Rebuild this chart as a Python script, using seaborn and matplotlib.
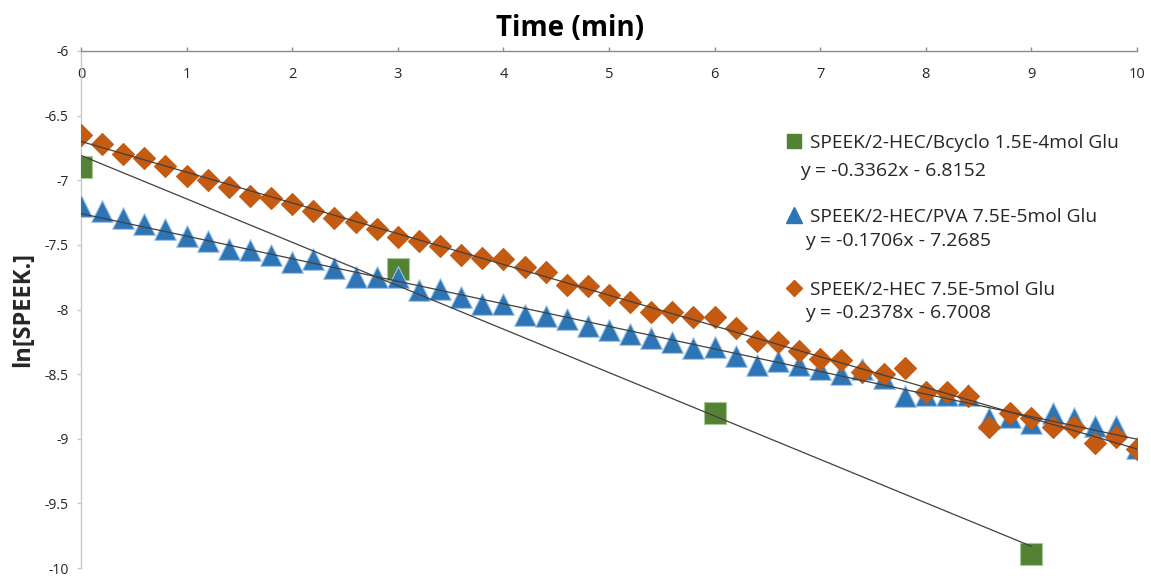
import numpy as np
import pandas as pd
import matplotlib
matplotlib.use("Agg")
import matplotlib.pyplot as plt
import seaborn as sns

time_fine = [0.0, 0.2, 0.4, 0.6, 0.8, 1.0, 1.2, 1.4, 1.6, 1.8,
             2.0, 2.2, 2.4, 2.6, 2.8, 3.0, 3.2, 3.4, 3.6, 3.8,
             4.0, 4.2, 4.4, 4.6, 4.8, 5.0, 5.2, 5.4, 5.6, 5.8,
             6.0, 6.2, 6.4, 6.6, 6.8, 7.0, 7.2, 7.4, 7.6, 7.8,
             8.0, 8.2, 8.4, 8.6, 8.8, 9.0, 9.2, 9.4, 9.6, 9.8,
             10.0]
pva_vals = [-7.20, -7.24, -7.29, -7.34, -7.38, -7.43, -7.47, -7.53, -7.54, -7.58,
            -7.63, -7.61, -7.68, -7.75, -7.75, -7.75, -7.85, -7.84, -7.90, -7.96,
            -7.96, -8.04, -8.05, -8.07, -8.13, -8.16, -8.19, -8.22, -8.25, -8.30,
            -8.29, -8.36, -8.43, -8.40, -8.43, -8.46, -8.50, -8.46, -8.53, -8.67,
            -8.66, -8.66, -8.66, -8.84, -8.83, -8.88, -8.80, -8.84, -8.90, -8.90,
            -9.07]
hec_vals = [-6.65, -6.72, -6.80, -6.83, -6.89, -6.97, -7.00, -7.05, -7.12, -7.14,
            -7.18, -7.24, -7.29, -7.32, -7.38, -7.44, -7.47, -7.51, -7.58, -7.60,
            -7.61, -7.67, -7.71, -7.81, -7.82, -7.89, -7.94, -8.02, -8.02, -8.06,
            -8.06, -8.14, -8.24, -8.25, -8.32, -8.38, -8.39, -8.48, -8.50, -8.45,
            -8.64, -8.64, -8.67, -8.91, -8.80, -8.84, -8.91, -8.91, -9.03, -8.99,
            -9.08]
time_coarse = [0, 3, 6, 9]
bcyclo_vals = [-6.90, -7.69, -8.80, -9.89]

series_names = ["SPEEK/2-HEC/Bcyclo 1.5E-4mol Glu",
                "SPEEK/2-HEC/PVA 7.5E-5mol Glu",
                "SPEEK/2-HEC 7.5E-5mol Glu"]
equations = ["y = -0.3362x - 6.8152",
             "y = -0.1706x - 7.2685",
             "y = -0.2378x - 6.7008"]
y_ticks = [-10, -9.5, -9, -8.5, -8, -7.5, -7, -6.5, -6]
y_tick_labels = ["-10", "-9.5", "-9", "-8.5", "-8", "-7.5", "-7", "-6.5", "-6"]
x_ticks = [0, 1, 2, 3, 4, 5, 6, 7, 8, 9, 10]

sns.set_theme(style="white")
plt.rcParams["font.family"] = ["Open Sans", "DejaVu Sans"]

colors = ["#548235", "#2E75B6", "#C55A11"]
edges = ["#A9C89A", "#9DC3E6", "#C55A11"]
markers = ["s", "^", "D"]
sizes = [270, 245, 125]

df_g = pd.DataFrame({"t": time_coarse, "v": bcyclo_vals})
df_b = pd.DataFrame({"t": time_fine, "v": pva_vals})
df_o = pd.DataFrame({"t": time_fine, "v": hec_vals})
frames = [df_g, df_b, df_o]

fig = plt.figure(figsize=(11.51, 5.76), dpi=100)
ax = fig.add_axes([81 / 1151, 8 / 576, (1137 - 81) / 1151, (568 - 51) / 576])

for df, c, ec, m, s, name in zip(frames, colors, edges, markers, sizes, series_names):
    sns.scatterplot(data=df, x="t", y="v", ax=ax, marker=m, s=s, color=c,
                    edgecolor=ec, linewidth=0.8, zorder=3, label=name, legend=False)
for df in frames:
    sns.regplot(data=df, x="t", y="v", ax=ax, scatter=False, ci=None,
                truncate=True, line_kws={"color": "#404040", "lw": 0.9, "zorder": 4})

ax.set_xlim(0, 10)
ax.set_ylim(-10, -6)
ax.set_yticks(y_ticks)
ax.set_yticklabels(y_tick_labels)
ax.set_xticks(x_ticks)
ax.set_xlabel("")
ax.set_ylabel("ln[SPEEK.]", fontsize=17, fontweight="bold", labelpad=7)

for side in ["right", "bottom"]:
    ax.spines[side].set_visible(False)
ax.spines["top"].set_color("#8C8C8C")
ax.spines["left"].set_color("#C8C8C8")
ax.spines["top"].set_linewidth(1.0)
ax.spines["left"].set_linewidth(1.0)

ax.tick_params(axis="x", top=True, bottom=False, labeltop=True, labelbottom=False,
               direction="out", length=3, width=1, color="#8C8C8C", pad=-25,
               labelsize=10.5, labelcolor="#262626")
ax.tick_params(axis="y", left=True, direction="out", length=3, width=1,
               color="#C8C8C8", pad=6, labelsize=10, labelcolor="#262626")

fig.text(0.495, 1 - 28 / 576, "Time (min)", ha="center", va="center",
         fontsize=20, fontweight="bold", color="#000000")

leg_handles = []
for c, ec, m in zip(colors, edges, markers):
    ms = {"s": 10, "^": 11, "D": 8.5}[m]
    leg_handles.append(plt.Line2D([], [], ls="none", marker=m, markersize=ms,
                                  markerfacecolor=c, markeredgecolor=c))
leg = ax.legend(leg_handles, series_names, loc="upper left",
                bbox_to_anchor=(786 / 1151, 1 - 134 / 576),
                bbox_transform=fig.transFigure, frameon=False, fontsize=13.8,
                handlelength=0.8, handletextpad=0.45, labelspacing=2.9,
                borderpad=0, borderaxespad=0)
for t in leg.get_texts():
    t.set_color("#262626")

eq_pos = [(800, 171), (805, 241), (805, 313)]
for (px, py), eq in zip(eq_pos, equations):
    fig.text(px / 1151, 1 - py / 576, eq, ha="left", va="center",
             fontsize=14, color="#262626")

fig.savefig("out.png", dpi=100)
